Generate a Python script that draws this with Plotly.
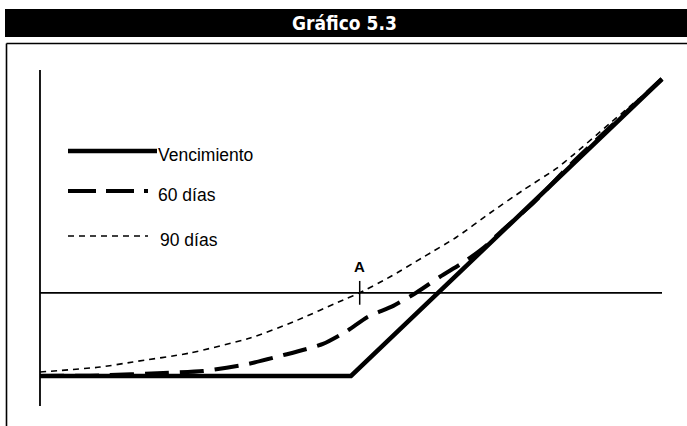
import plotly.graph_objects as go

# ---- data ----
title_text = "Gráfico 5.3"
series_names = ["Vencimiento", "60 días", "90 días"]

venc_x = [0, 50, 100]
venc_y = [0, 0, 50]

d60_x = [0, 9.65, 19.8, 26.2, 33.3, 39.1, 45.5, 49.4, 52.6, 56.8, 60.6, 64.3,
         68.6, 71.9, 74.4, 79.3, 85.2, 100]
d60_y = [0, 0.1, 0.5, 0.84, 2.0, 3.5, 5.4, 7.6, 9.9, 11.8, 14.1, 16.7,
         19.5, 22.1, 24.6, 29.1, 35.5, 50]

d90_x = [0, 9.65, 14.95, 24.1, 33.8, 40.7, 49.4, 51.4, 56.3, 61.6, 67.0, 72.3,
         77.7, 83.1, 85.7, 91.6, 100]
d90_y = [0.67, 1.5, 2.36, 3.87, 6.4, 9.1, 13.1, 14.0, 16.7, 20.0, 23.4, 27.4,
         31.3, 35.0, 37.2, 42.5, 50]

ref_level = 14          # horizontal reference line
point_a_x = [51.4]
point_a_y = [14.0]
point_a_label = "A"

x_range = [-6.43, 104.02]
y_range = [-8.42, 63.3]

fig = go.Figure()

fig.add_trace(go.Scatter(x=d90_x, y=d90_y, mode="lines",
                         line=dict(color="black", width=1.6, dash="6px,5px",
                                   shape="spline", smoothing=0.6),
                         showlegend=False))
fig.add_trace(go.Scatter(x=d60_x, y=d60_y, mode="lines",
                         line=dict(color="black", width=4, dash="24px,11px",
                                   shape="spline", smoothing=0.6),
                         showlegend=False))
fig.add_trace(go.Scatter(x=venc_x, y=venc_y, mode="lines",
                         line=dict(color="black", width=4.5),
                         showlegend=False))
fig.add_trace(go.Scatter(x=point_a_x, y=point_a_y, mode="markers",
                         marker=dict(symbol="line-ns", size=17,
                                     line=dict(color="black", width=1.5)),
                         showlegend=False))

shapes = []
# axes
shapes.append(dict(type="line", xref="x", yref="y", x0=0, x1=0, y0=-5.05, y1=51.5,
                   line=dict(color="black", width=1.8)))
shapes.append(dict(type="line", xref="x", yref="y", x0=0, x1=100,
                   y0=ref_level, y1=ref_level, line=dict(color="black", width=1.8)))
# title bar and frame (pixel-based in paper coords)
W, H = 687, 426
def px(x): return x / W
def py(y): return 1 - y / H
shapes.append(dict(type="rect", xref="paper", yref="paper",
                   x0=px(5), x1=px(690), y0=py(37), y1=py(9),
                   fillcolor="black", line=dict(width=0), layer="below"))
shapes.append(dict(type="line", xref="paper", yref="paper",
                   x0=px(6.5), x1=px(690), y0=py(43.5), y1=py(43.5),
                   line=dict(color="black", width=1.6)))
shapes.append(dict(type="line", xref="paper", yref="paper",
                   x0=px(6.5), x1=px(6.5), y0=py(43.5), y1=py(430),
                   line=dict(color="black", width=1.6)))
# legend samples
leg_styles = [dict(color="black", width=4.5),
              dict(color="black", width=4, dash="28px,10px"),
              dict(color="black", width=1.6, dash="6px,5px")]
leg_y = [151, 191, 236]
leg_x1 = [157, 148, 148]
leg_tx = [156, 156, 158]
for i in range(3):
    shapes.append(dict(type="line", xref="paper", yref="paper",
                       x0=px(68), x1=px(leg_x1[i]), y0=py(leg_y[i]), y1=py(leg_y[i]),
                       line=leg_styles[i]))

annotations = [dict(x=px(344), y=py(23), xref="paper", yref="paper",
                    text="<b>" + title_text + "</b>", showarrow=False,
                    font=dict(family="DejaVu Sans Condensed, Liberation Sans Narrow, Arial",
                              size=19, color="white"),
                    xanchor="center", yanchor="middle")]
for i, name in enumerate(series_names):
    annotations.append(dict(x=px(leg_tx[i]), y=py(leg_y[i] + 4), xref="paper", yref="paper",
                            text=name, showarrow=False, xanchor="left", yanchor="middle",
                            font=dict(family="Arial, Liberation Sans", size=17.5,
                                      color="black")))
annotations.append(dict(x=point_a_x[0], y=point_a_y[0], xref="x", yref="y",
                        text="<b>" + point_a_label + "</b>", showarrow=False,
                        yshift=26, xanchor="center", yanchor="middle",
                        font=dict(family="Arial, Liberation Sans", size=15, color="black")))

fig.update_layout(width=W, height=H, margin=dict(l=0, r=0, t=0, b=0),
                  paper_bgcolor="white", plot_bgcolor="white",
                  shapes=shapes, annotations=annotations,
                  xaxis=dict(range=x_range, visible=False, fixedrange=True),
                  yaxis=dict(range=y_range, visible=False, fixedrange=True),
                  showlegend=False)

fig.write_html("out.html",
               config={"displayModeBar": False},
               post_script="document.body.style.margin='0';document.body.style.overflow='hidden';")
